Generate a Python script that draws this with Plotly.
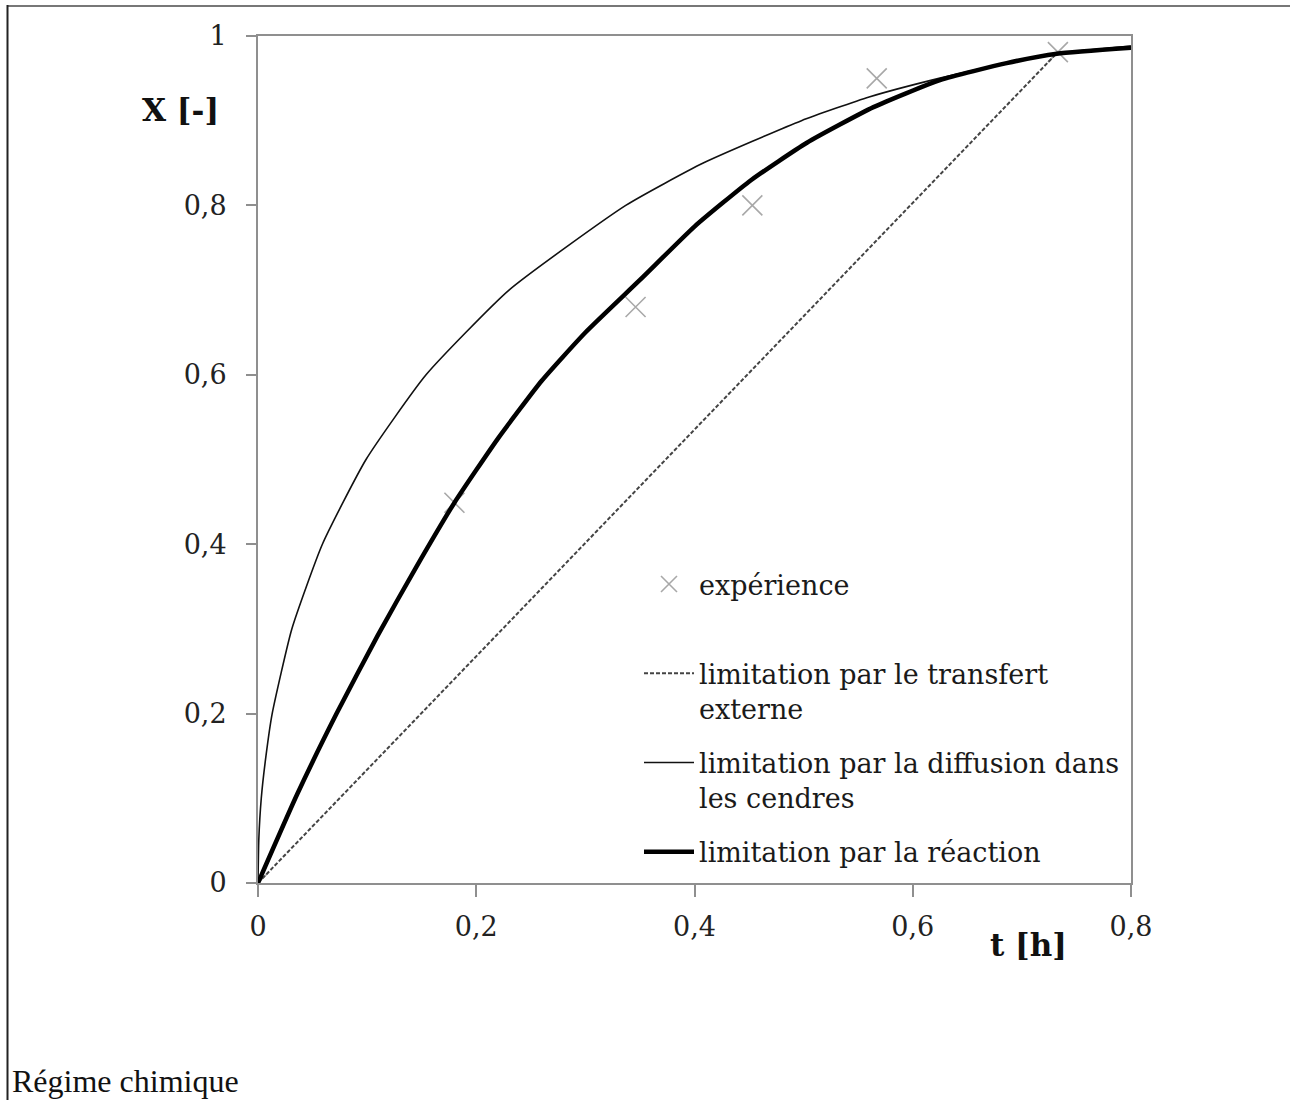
import plotly.graph_objects as go

# ---------------- data ----------------
exp_t = [0.0, 0.180, 0.346, 0.453, 0.567, 0.733]
exp_X = [0.0, 0.449, 0.680, 0.800, 0.950, 0.981]

transfert_t = [0.0, 0.733]
transfert_X = [0.0, 0.981]

diffusion_t = [0.0, 0.0007, 0.003, 0.0073, 0.013, 0.031, 0.059, 0.099, 0.154,
               0.230, 0.337, 0.408, 0.498, 0.560, 0.624, 0.693, 0.737, 0.800]
diffusion_X = [0.0, 0.050, 0.100, 0.150, 0.200, 0.300, 0.400, 0.500, 0.600,
               0.700, 0.800, 0.850, 0.900, 0.928, 0.950, 0.970, 0.980, 0.988]

reaction_t = [0.0, 0.036, 0.072, 0.110, 0.145, 0.180, 0.220, 0.260, 0.300,
              0.350, 0.400, 0.452, 0.503, 0.564, 0.625, 0.686, 0.732, 0.800]
reaction_X = [0.0, 0.105, 0.200, 0.293, 0.373, 0.449, 0.525, 0.593, 0.650,
              0.712, 0.775, 0.830, 0.874, 0.916, 0.948, 0.968, 0.979, 0.986]

x_tickvals = [0, 0.2, 0.4, 0.6, 0.8]
x_ticktext = ["0", "0,2", "0,4", "0,6", "0,8"]
y_tickvals = [0, 0.2, 0.4, 0.6, 0.8, 1]
y_ticktext = ["0", "0,2", "0,4", "0,6", "0,8", "1"]

names = ["expérience<br> ",
         "limitation par le transfert<br>externe",
         "limitation par la diffusion dans<br>les cendres",
         "limitation par la réaction"]

# ---------------- layout geometry ----------------
W, H = 1290, 1100
L, R, T, B = 258, 1290 - 1131, 36, 1100 - 883
PW, PH = W - L - R, H - T - B


def px(xp):
    return (xp - L) / PW


def py(yp):
    return (H - B - yp) / PH


SERIF = "DejaVu Serif"

fig = go.Figure()

fig.add_trace(go.Scatter(
    x=exp_t, y=exp_X, mode="markers", name=names[0], legendgroup="a",
    marker=dict(symbol="x-thin", size=20, color="#a8a8a8",
                line=dict(color="#a8a8a8", width=1.6)),
))
fig.add_trace(go.Scatter(
    x=transfert_t, y=transfert_X, mode="lines", name=names[1], legendgroup="b",
    line=dict(color="#444444", width=2, dash="4px,2px"),
))
fig.add_trace(go.Scatter(
    x=diffusion_t, y=diffusion_X, mode="lines", name=names[2], legendgroup="c",
    line=dict(color="#111111", width=1.6, shape="spline", smoothing=0.5),
))
fig.add_trace(go.Scatter(
    x=reaction_t, y=reaction_X, mode="lines", name=names[3], legendgroup="d",
    line=dict(color="#000000", width=4.5, shape="spline", smoothing=0.5),
))

axis_common = dict(
    showgrid=False, zeroline=False, showline=True, mirror=True,
    linecolor="#8f8f8f", linewidth=2, ticks="outside", tickcolor="#8f8f8f",
    tickwidth=2, tickfont=dict(family=SERIF, size=27, color="#222222"),
)

fig.update_layout(
    width=W, height=H,
    margin=dict(l=L, r=R, t=T, b=B, pad=0),
    paper_bgcolor="white", plot_bgcolor="white",
    xaxis=dict(range=[0, 0.8], tickvals=x_tickvals, ticktext=x_ticktext,
               ticklen=12, ticklabelstandoff=7, **axis_common),
    yaxis=dict(range=[0, 1], tickvals=y_tickvals, ticktext=y_ticktext,
               ticklen=10, ticklabelstandoff=14, **axis_common),
    showlegend=True,
    legend=dict(
        x=px(639), y=py(560), xanchor="left", yanchor="top",
        bgcolor="rgba(0,0,0,0)", borderwidth=0,
        font=dict(family=SERIF, size=27, color="#1a1a1a"),
        itemwidth=50, valign="top", tracegroupgap=16,
        traceorder="grouped",
    ),
    annotations=[
        dict(text="<b>X [-]</b>", xref="paper", yref="paper",
             x=px(180), y=py(110), xanchor="center", yanchor="middle",
             showarrow=False, font=dict(family=SERIF, size=31, color="#111111")),
        dict(text="<b>t [h]</b>", xref="paper", yref="paper",
             x=px(1028), y=py(945), xanchor="center", yanchor="middle",
             showarrow=False, font=dict(family=SERIF, size=31, color="#111111")),
        dict(text="Régime chimique", xref="paper", yref="paper",
             x=px(10), y=py(1101), xanchor="left", yanchor="bottom",
             showarrow=False,
             font=dict(family="Liberation Serif", size=32, color="#111111")),
    ],
    shapes=[
        dict(type="line", xref="paper", yref="paper",
             x0=px(7), x1=px(1292), y0=py(6), y1=py(6),
             line=dict(color="#777777", width=2)),
        dict(type="line", xref="paper", yref="paper",
             x0=px(7.5), x1=px(7.5), y0=py(5), y1=py(1105),
             line=dict(color="#222222", width=2)),
    ],
)

fig.write_html(
    "out.html",
    config={"displayModeBar": False},
    post_script="document.body.style.margin='0';document.body.style.overflow='hidden';",
)
